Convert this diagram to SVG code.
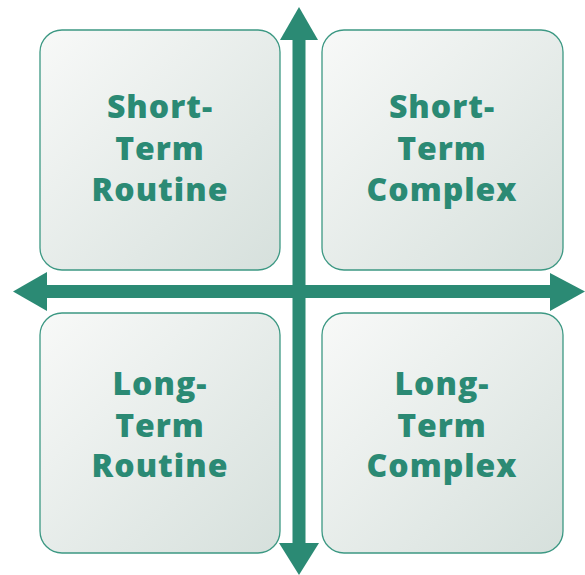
<svg xmlns="http://www.w3.org/2000/svg" width="585" height="575" viewBox="0 0 585 575">
<defs>
<linearGradient id="g" x1="0" y1="0" x2="1" y2="1">
<stop offset="0" stop-color="#f8f9f8"/>
<stop offset="1" stop-color="#d6e0dc"/>
</linearGradient>
<style>
.box{fill:url(#g);stroke:#3c9883;stroke-width:1.3}
.t{font-family:"Open Sans","Liberation Sans",sans-serif;font-weight:800;font-size:32px;letter-spacing:1px;fill:#2b8a74;text-anchor:middle}
.ax{fill:#2b8a74}
</style>
</defs>
<g id="node-tl"><rect class="box" x="40" y="30" width="240" height="240" rx="22"/>
<text class="t"><tspan x="160" y="118">Short-</tspan><tspan x="160" y="160">Term</tspan><tspan x="160" y="201">Routine</tspan></text></g>
<g id="node-tr"><rect class="box" x="322" y="30" width="241" height="240" rx="22"/>
<text class="t"><tspan x="442" y="118">Short-</tspan><tspan x="442" y="160">Term</tspan><tspan x="442" y="201">Complex</tspan></text></g>
<g id="node-bl"><rect class="box" x="40" y="313" width="240" height="240" rx="22"/>
<text class="t"><tspan x="160" y="395">Long-</tspan><tspan x="160" y="437">Term</tspan><tspan x="160" y="477">Routine</tspan></text></g>
<g id="node-br"><rect class="box" x="322" y="313" width="241" height="240" rx="22"/>
<text class="t"><tspan x="442" y="395">Long-</tspan><tspan x="442" y="437">Term</tspan><tspan x="442" y="477">Complex</tspan></text></g>
<g id="connectors">
<rect class="ax" x="292.5" y="38" width="13" height="507"/>
<polygon class="ax" points="299,7 318,40 280,40"/>
<polygon class="ax" points="299,575 319,543 279,543"/>
<rect class="ax" x="45" y="285" width="508" height="13"/>
<polygon class="ax" points="13,291.5 47,272 47,311"/>
<polygon class="ax" points="585,291.5 550,273 550,311"/>
</g>
</svg>
